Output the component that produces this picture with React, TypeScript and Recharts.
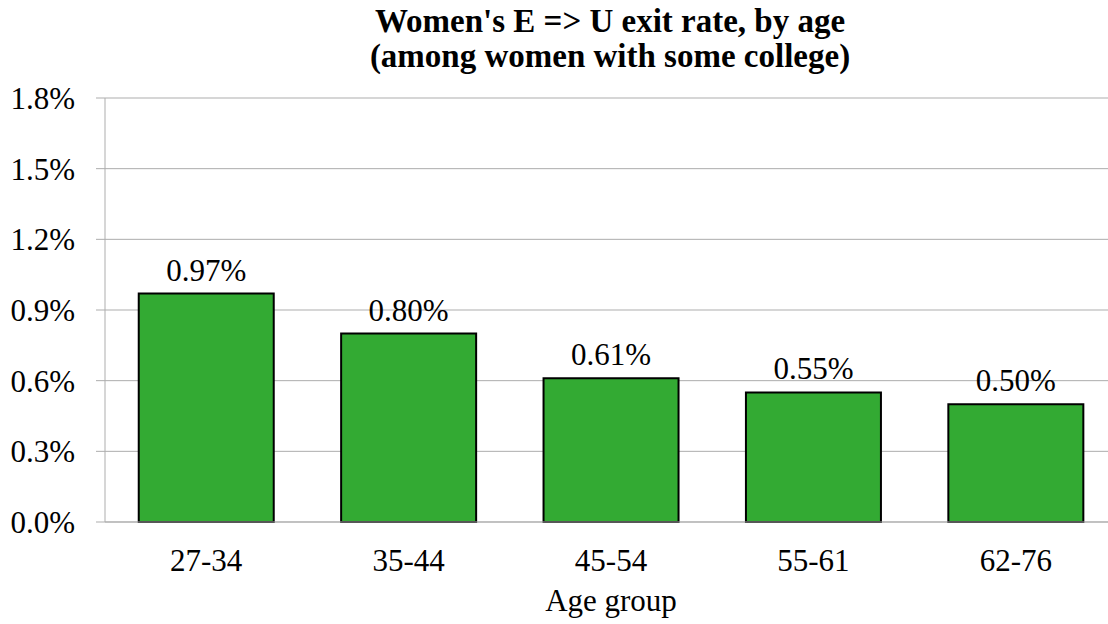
import React from "react";
import { BarChart, Bar, XAxis, YAxis, CartesianGrid, LabelList } from "recharts";

const categories = ["27-34", "35-44", "45-54", "55-61", "62-76"];
const exitRates = [0.97, 0.8, 0.61, 0.55, 0.5];
const yTicks = [0, 0.3, 0.6, 0.9, 1.2, 1.5, 1.8];
const titleLines = ["Women's E => U exit rate, by age", "(among women with some college)"];
const xAxisTitle = "Age group";

const data = categories.map((c, i) => ({ group: c, rate: exitRates[i] }));

const FONT = '"Liberation Serif", "Times New Roman", serif';
const GRID = "#ADADAD";
const FS = 31;

export default function App() {
  return (
    <div
      style={{
        position: "absolute",
        left: 0,
        top: 0,
        width: 1108,
        height: 624,
        overflow: "hidden",
        background: "#fff",
      }}
    >
      <BarChart
        width={1117}
        height={624}
        data={data}
        margin={{ top: 98, right: 0, bottom: 0, left: 0 }}
        barCategoryGap="16.67%"
        style={{ fontFamily: FONT }}
      >
        <CartesianGrid vertical={false} stroke={GRID} strokeWidth={1} />
        <XAxis
          dataKey="group"
          height={102}
          tickLine={false}
          tickSize={0}
          tickMargin={27}
          axisLine={{ stroke: GRID, strokeWidth: 1 }}
          tick={{ fill: "#000", fontSize: FS, fontFamily: FONT }}
          label={{
            value: xAxisTitle,
            position: "insideBottom",
            offset: 13,
            fill: "#000",
            fontSize: FS,
            fontFamily: FONT,
          }}
        />
        <YAxis
          width={105}
          domain={[0, 1.8]}
          ticks={yTicks}
          interval={0}
          tickSize={9}
          tickMargin={21}
          tickLine={{ stroke: GRID }}
          axisLine={{ stroke: GRID, strokeWidth: 1 }}
          tickFormatter={(v: number) => `${v.toFixed(1)}%`}
          tick={{ fill: "#000", fontSize: FS, fontFamily: FONT }}
        />
        <Bar dataKey="rate" fill="#33AA33" stroke="#000" strokeWidth={2} isAnimationActive={false}>
          <LabelList
            dataKey="rate"
            position="top"
            offset={13}
            formatter={(v: number) => `${v.toFixed(2)}%`}
            style={{ fill: "#000", fontSize: FS, fontFamily: FONT }}
          />
        </Bar>
      </BarChart>
      <svg
        width={1108}
        height={90}
        style={{ position: "absolute", left: 0, top: 0, pointerEvents: "none" }}
      >
        <text x={610} y={32} textAnchor="middle" fontFamily={FONT} fontWeight="bold" fontSize={33} fill="#000">
          {titleLines[0]}
        </text>
        <text x={610} y={67} textAnchor="middle" fontFamily={FONT} fontWeight="bold" fontSize={33} fill="#000">
          {titleLines[1]}
        </text>
      </svg>
    </div>
  );
}
